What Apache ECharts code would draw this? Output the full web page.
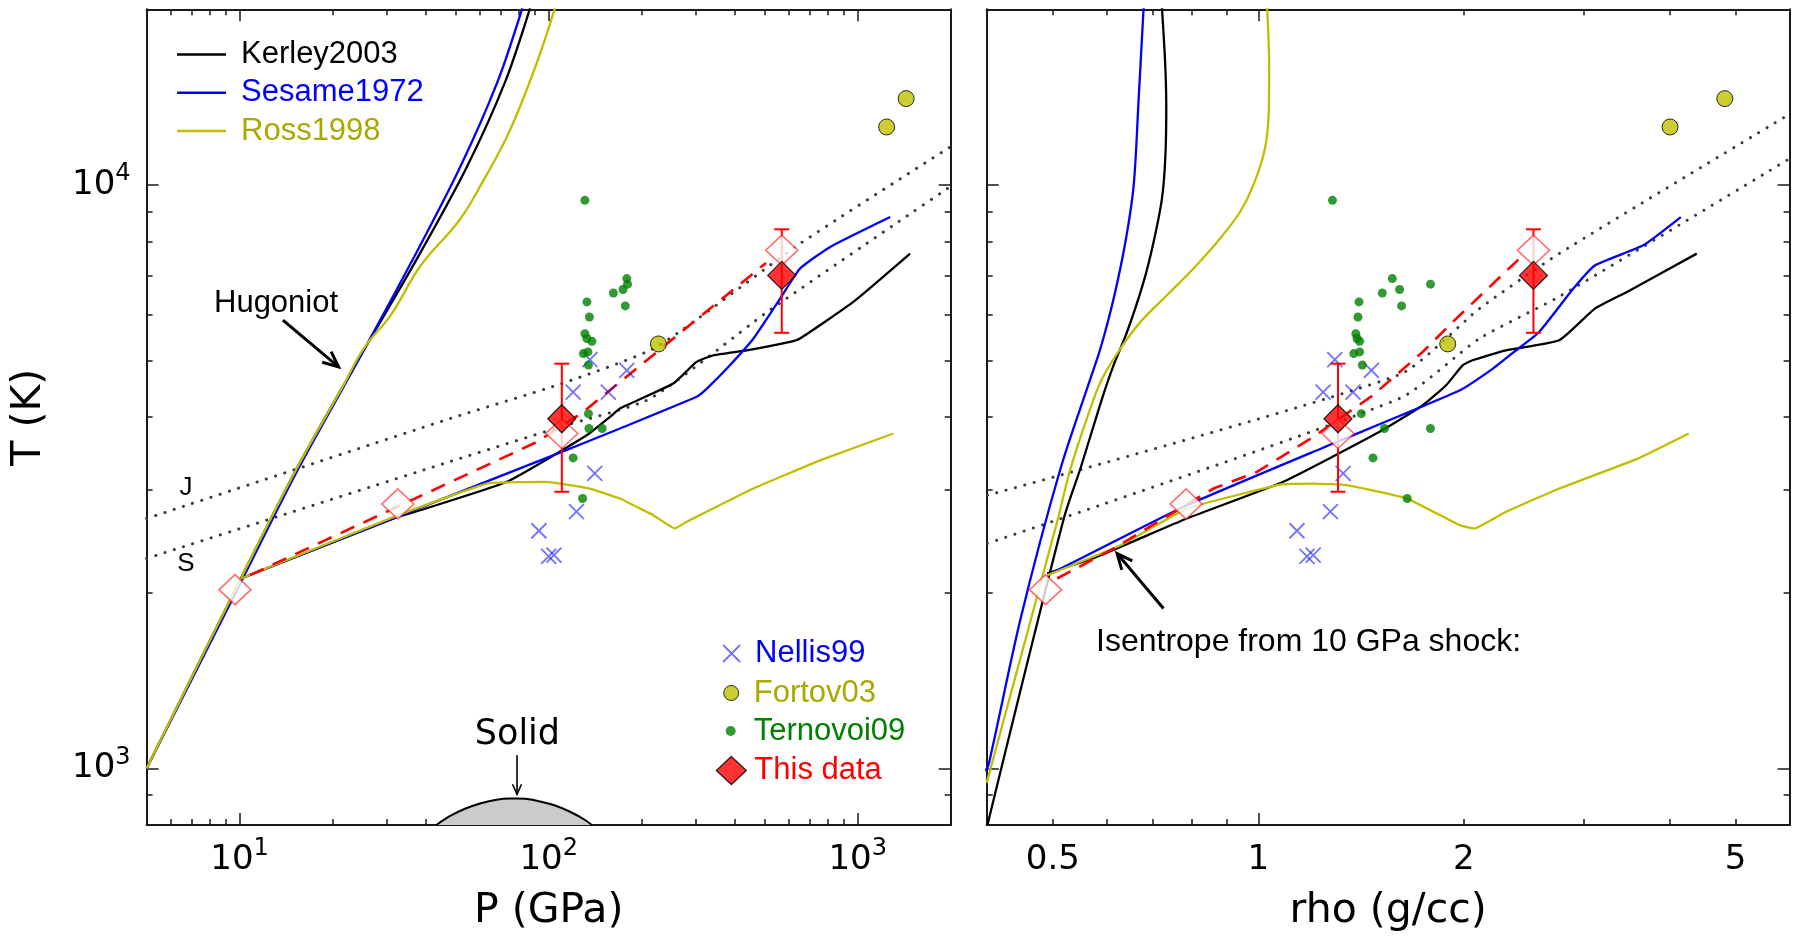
<!DOCTYPE html>
<html><head><meta charset="utf-8">
<script src="https://cdn.jsdelivr.net/npm/echarts@6/dist/echarts.min.js"></script>
<style>html,body{margin:0;padding:0;background:#fff}#c{width:1794px;height:937px}</style>
</head><body><div id="c"></div>
<script>
// ================= DATA =================
// ---- Left panel: P (GPa) vs T (K) ----
const kerleyHugP = [5, 9.66, 15.3, 23.8, 37.0, 54.0, 72.3, 87.1];
const kerleyHugT = [1000, 2021, 3266, 4943, 7383, 10660, 15020, 20100];
const sesameHugP = [5, 9.8, 15.5, 23.9, 36.0, 51.4, 68.3, 82.2];
const sesameHugT = [1000, 2021, 3266, 4943, 7383, 10660, 15020, 20100];
const rossHugP = [5, 9.66, 15.3, 21.5, 25.2, 30.8, 38.6, 51.4, 61.0, 74.5, 90.9, 104.8];
const rossHugT = [1000, 2021, 3266, 4500, 5244, 5979, 7284, 8700, 10100, 12320, 16030, 20100];

const kerleyIsoP = [10.1, 32.6, 38.4, 73.2, 132.8, 158, 170, 253, 301, 341, 438, 604, 651, 968, 1478];
const kerleyIsoT = [2116, 2700, 2770, 3099, 3724, 4004, 4138, 4567, 4974, 5106, 5207, 5383, 5455, 6303, 7626];
const sesameIsoP = [10.1, 32.6, 110.3, 170, 301, 325, 386, 460, 561, 651, 815, 1274];
const sesameIsoT = [2116, 2704, 3487, 3824, 4334, 4477, 4910, 5455, 6384, 7190, 7830, 8810];
const rossIsoP = [10.1, 32.6, 63.1, 98.6, 136, 170, 198, 218, 256, 280, 460, 755, 1305];
const rossIsoT = [2116, 2717, 3078, 3099, 3018, 2901, 2788, 2717, 2578, 2647, 3018, 3373, 3750];

const jP = [5, 48, 110.3, 224, 651, 2000];
const jT = [2681, 3978, 4567, 5284, 7933, 11630];
const sP = [5, 48, 110.3, 213, 508, 1305, 2000];
const sT = [2290, 3357, 3855, 4305, 6050, 8530, 9945];

const dashP = [10.8, 32.6, 91.5, 129, 505];
const dashT = [2144, 2813, 3626, 4077, 7350];

const solidP = [43.3, 48.0, 53.6, 60.0, 67.1, 75.0, 79.0, 83.9, 93.8, 104.9, 117.3, 131.2, 137.9];
const solidT = [800, 829, 853, 871, 883, 888, 888, 887, 878, 864, 843, 816, 800];

// ---- Right panel: rho (g/cc) vs T (K) ----
const kerleyHugRho = [0.401, 0.5188, 0.5487, 0.5903, 0.6137, 0.6422, 0.679, 0.7023, 0.7224, 0.7305, 0.733, 0.7305, 0.7224];
const kerleyHugRhoT = [800, 2681, 3266, 4305, 4912, 5598, 6823, 7986, 9478, 11090, 13510, 16030, 20100];
const sesameHugRho = [0.398, 0.4024, 0.4485, 0.5131, 0.5675, 0.587, 0.6137, 0.6386, 0.6567, 0.6678, 0.679];
const sesameHugRhoT = [990, 1013, 1807, 3266, 4655, 5244, 6384, 7986, 9984, 14060, 20100];
const rossHugRho = [0.4, 0.5073, 0.5307, 0.5741, 0.5937, 0.628, 0.6715, 0.7347, 0.8035, 0.8789, 0.9399, 0.9829, 1.0223, 1.036, 1.037, 1.030];
const rossHugRhoT = [945, 2647, 3266, 4305, 4716, 5244, 5820, 6472, 7191, 8095, 8988, 9984, 11540, 13510, 16030, 20100];

const kerleyIsoRho = [0.4906, 0.5805, 0.7856, 1.0875, 1.505, 1.741, 1.884, 1.993, 2.060, 2.305, 2.758, 3.111, 3.467, 4.387];
const kerleyIsoRhoT = [2159, 2306, 2681, 3099, 3775, 4193, 4537, 4910, 5007, 5207, 5418, 6138, 6557, 7626];
const sesameIsoRho = [0.4906, 0.6137, 0.7856, 1.2866, 1.970, 2.206, 2.369, 2.578, 2.893, 3.110, 3.662, 4.157];
const sesameIsoRhoT = [2143, 2446, 2825, 3605, 4443, 4845, 5175, 5598, 6643, 7278, 7880, 8810];
const rossIsoRho = [0.4906, 0.628, 0.7856, 1.075, 1.203, 1.346, 1.652, 1.970, 2.071, 2.305, 2.758, 3.595, 4.270];
const rossIsoRhoT = [2143, 2413, 2788, 3066, 3078, 3058, 2901, 2612, 2578, 2754, 3018, 3396, 3750];

const jRho = [0.401, 1.610, 2.108, 2.758, 5.957];
const jRhoT = [2939, 4732, 6138, 7626, 13160];
const sRho = [0.401, 1.610, 2.108, 2.758, 5.957];
const sRhoT = [2430, 4305, 5455, 6436, 11040];

const dashRho = [0.5073, 0.6137, 0.8593, 0.9943, 1.203, 1.472, 1.741, 1.949, 2.411];
const dashRhoT = [2116, 2382, 3018, 3221, 3698, 4362, 5175, 5902, 7475];

// ---- Experimental points (shared T, P for left, rho for right) ----
const nellisT = [5020, 4417, 4417, 4813, 3203, 2754, 2555, 2310, 2320];
const nellisP = [136, 120, 156, 179, 141, 123, 93, 100, 104];
const nellisRho = [1.294, 1.244, 1.376, 1.464, 1.331, 1.275, 1.139, 1.178, 1.203];

const fortovT = [5340, 12570, 14060];
const fortovP = [226.6, 1241, 1435];
const fortovRho = [1.894, 4.009, 4.822];

const ternovoiT = [9410, 6303, 5940, 5559, 5455, 5396, 5140, 5175, 4912, 6911, 6760, 6620, 6530, 6204, 4055, 3824, 3824, 3406, 2901];
const ternovoiP = [131, 133, 135.5, 131, 133, 138, 129.5, 134, 134.5, 179, 180, 174, 162, 177, 134.5, 135, 149, 120, 128.8];
const ternovoiRho = [1.284, 1.404, 1.399, 1.389, 1.395, 1.407, 1.380, 1.407, 1.420, 1.571, 1.787, 1.610, 1.519, 1.621, 1.415, 1.530, 1.787, 1.472, 1.652];

const thisT = [3975, 6998];
const thisTLow = [2980, 5580];
const thisTHigh = [4940, 8395];
const thisP = [110.3, 568];
const thisRho = [1.308, 2.529];

const openT = [2025, 2840, 3750, 7730];
const openP = [9.66, 32.5, 110.3, 568];
const openRho = [0.4878, 0.7837, 1.308, 2.529];

// ---- Annotation arrows (tail -> tip, data coordinates) ----
const hugoniotArrow = [13.8, 5864, 20.9, 4876];
const solidArrow = [79.0, 1054, 79.0, 903];
const isentropeArrow = [0.7262, 1880, 0.6209, 2335];

// ---- Ticks ----
const pMajorTicks = [10, 100, 1000];
const pMinorTicks = [6, 7, 8, 9, 20, 30, 40, 50, 60, 70, 80, 90, 200, 300, 400, 500, 600, 700, 800, 900];
const tMajorTicks = [1000, 10000];
const tMinorTicks = [900, 2000, 3000, 4000, 5000, 6000, 7000, 8000, 9000];
const rhoMajorTicks = [1];
const rhoMinorTicks = [0.5, 0.6, 0.7, 0.8, 0.9, 2, 3, 4, 5];
const rhoTickLabels = [0.5, 1, 2, 5];

// ================= CHART =================
const pts = (xs, ys) => xs.map((x, i) => [x, ys[i]]);
const FRAME = '#1a1a1a';
const BLUE = '#0000ff', BLACK = '#000000', YEL = '#bfbf00', YELTXT = '#a9a900', GREEN = '#008000', RED = '#ff0000';
const DJ = 'DejaVu Sans';
const LS = '"Liberation Sans", Arial, sans-serif';

const richLbl = {
  b: {fontFamily: DJ, fontSize: 34, lineHeight: 46, color: '#000'},
  s: {fontFamily: DJ, fontSize: 24, lineHeight: 24, verticalAlign: 'top', color: '#000'}
};
const powFmt = v => '{b|10}{s|' + Math.round(Math.log10(v)) + '}';

function ax(gridIndex, position, min, max, ticks, len, showLine, label, extra) {
  return Object.assign({
    type: 'log', logBase: 10, gridIndex, position, min, max,
    axisLine: {show: showLine, onZero: false, lineStyle: {color: FRAME, width: 2}},
    axisTick: {show: true, inside: true, length: len, customValues: ticks, lineStyle: {color: FRAME, width: 1.5}},
    axisLabel: label || {show: false},
    splitLine: {show: false},
    minorTick: {show: false},
    minorSplitLine: {show: false}
  }, extra || {});
}

const xAxes = [
  ax(0, 'bottom', 5, 2000, pMajorTicks, 12, true,
     {show: true, customValues: pMajorTicks, margin: 12, formatter: powFmt, rich: richLbl},
     {name: 'P (GPa)', nameLocation: 'middle', nameGap: 66, nameTextStyle: {fontFamily: DJ, fontSize: 41, color: '#000'}}),
  ax(0, 'bottom', 5, 2000, pMinorTicks, 6, false),
  ax(0, 'top', 5, 2000, pMajorTicks, 12, true),
  ax(0, 'top', 5, 2000, pMinorTicks, 6, false),
  ax(1, 'bottom', 0.4, 6, rhoMajorTicks, 12, true,
     {show: true, customValues: rhoTickLabels, margin: 12, formatter: v => '{b|' + parseFloat(Number(v).toPrecision(3)) + '}', rich: richLbl},
     {name: 'rho (g/cc)', nameLocation: 'middle', nameGap: 66, nameTextStyle: {fontFamily: DJ, fontSize: 41, color: '#000'}}),
  ax(1, 'bottom', 0.4, 6, rhoMinorTicks, 6, false),
  ax(1, 'top', 0.4, 6, rhoMajorTicks, 12, true),
  ax(1, 'top', 0.4, 6, rhoMinorTicks, 6, false)
];
const yAxes = [
  ax(0, 'left', 800, 20000, tMajorTicks, 12, true,
     {show: true, customValues: tMajorTicks, margin: 16, formatter: powFmt, rich: richLbl},
     {name: 'T (K)', nameLocation: 'middle', nameGap: 97, nameTextStyle: {fontFamily: DJ, fontSize: 41, color: '#000'}}),
  ax(0, 'left', 800, 20000, tMinorTicks, 6, false),
  ax(0, 'right', 800, 20000, tMajorTicks, 12, true),
  ax(0, 'right', 800, 20000, tMinorTicks, 6, false),
  ax(1, 'left', 800, 20000, tMajorTicks, 12, true),
  ax(1, 'left', 800, 20000, tMinorTicks, 6, false),
  ax(1, 'right', 800, 20000, tMajorTicks, 12, true),
  ax(1, 'right', 800, 20000, tMinorTicks, 6, false)
];

function line(name, data, color, width, panel, extra) {
  return Object.assign({
    type: 'line', name, data, xAxisIndex: panel * 4, yAxisIndex: panel * 4,
    showSymbol: false, symbol: 'none', color, silent: true, animation: false,
    lineStyle: {color, width}
  }, extra || {});
}
const dotted = {lineStyle: {color: '#3a3a3a', width: 3, type: [0.1, 9.6], cap: 'round'}, smooth: 0.2};
const dashed = {lineStyle: {color: RED, width: 2.6, type: [15, 10]}};
const sm = {smooth: 0.3};
const smIso = {smooth: 0.15};

function scatter(name, data, panel, symbol, size, itemStyle, z) {
  return {type: 'scatter', name, data, xAxisIndex: panel * 4, yAxisIndex: panel * 4,
          symbol, symbolSize: size, itemStyle, silent: true, animation: false, z: z || 3};
}
const XPATH = 'path://M0,0L10,10M10,0L0,10';
const nellisStyle = {color: 'transparent', borderColor: 'rgba(20,20,255,0.75)', borderWidth: 1.8};
const fortovStyle = {color: YEL, borderColor: '#000', borderWidth: 1};
const ternStyle = {color: GREEN};
const thisStyle = {color: RED, borderColor: '#000', borderWidth: 1.3};
const openStyle = {color: '#ffffff', borderColor: 'rgba(255,40,40,0.85)', borderWidth: 1.6};

function errRender(params, api) {
  const x = api.value(0);
  const lo = api.coord([x, api.value(1)]);
  const hi = api.coord([x, api.value(2)]);
  const c = 7.5, st = {stroke: RED, lineWidth: 2};
  return {type: 'group', children: [
    {type: 'line', shape: {x1: lo[0], y1: lo[1], x2: hi[0], y2: hi[1]}, style: st},
    {type: 'line', shape: {x1: lo[0] - c, y1: lo[1], x2: lo[0] + c, y2: lo[1]}, style: st},
    {type: 'line', shape: {x1: hi[0] - c, y1: hi[1], x2: hi[0] + c, y2: hi[1]}, style: st}
  ]};
}
function errSeries(xs, panel) {
  return {type: 'custom', name: 'err', xAxisIndex: panel * 4, yAxisIndex: panel * 4, renderItem: errRender,
          data: xs.map((x, i) => [x, thisTLow[i], thisTHigh[i]]), encode: {x: 0, y: [1, 2]}, silent: true, z: 4, animation: false};
}
function arrowSeries(a, panel, width, head) {
  return {type: 'custom', name: 'arrow', xAxisIndex: panel * 4, yAxisIndex: panel * 4, silent: true, z: 6, animation: false,
    data: [a], encode: {x: [0, 2], y: [1, 3]},
    renderItem: (params, api) => {
      const p1 = api.coord([api.value(0), api.value(1)]);
      const p2 = api.coord([api.value(2), api.value(3)]);
      const ang = Math.atan2(p2[1] - p1[1], p2[0] - p1[0]);
      const a1 = ang + Math.PI - 0.42, a2 = ang + Math.PI + 0.42;
      const st = {stroke: '#000', lineWidth: width, fill: null};
      return {type: 'group', children: [
        {type: 'line', shape: {x1: p1[0], y1: p1[1], x2: p2[0], y2: p2[1]}, style: st},
        {type: 'polyline', shape: {points: [[p2[0] + head * Math.cos(a1), p2[1] + head * Math.sin(a1)], [p2[0], p2[1]], [p2[0] + head * Math.cos(a2), p2[1] + head * Math.sin(a2)]]}, style: st}
      ]};
    }};
}

const series = [
  // ----- left -----
  line('Solid', pts(solidP, solidT), BLACK, 2, 0, {smooth: 0.3, areaStyle: {color: '#cbcbcb', origin: 'start', opacity: 1}}),
  line('J', pts(jP, jT), '#3a3a3a', 3, 0, dotted),
  line('S', pts(sP, sT), '#3a3a3a', 3, 0, dotted),
  line('Kerley2003', pts(kerleyHugP, kerleyHugT), BLACK, 2.3, 0, sm),
  line('Sesame1972', pts(sesameHugP, sesameHugT), BLUE, 2.3, 0, sm),
  line('Ross1998', pts(rossHugP, rossHugT), YEL, 2.3, 0, {smooth: 0.4}),
  line('Kerley2003', pts(kerleyIsoP, kerleyIsoT), BLACK, 2.3, 0, smIso),
  line('Sesame1972', pts(sesameIsoP, sesameIsoT), BLUE, 2.3, 0, smIso),
  line('Ross1998', pts(rossIsoP, rossIsoT), YEL, 2.3, 0, {smooth: 0.1}),
  line('model', pts(dashP, dashT), RED, 2.6, 0, dashed),
  scatter('Nellis99', pts(nellisP, nellisT), 0, XPATH, 15, nellisStyle),
  scatter('Ternovoi09', pts(ternovoiP, ternovoiT), 0, 'circle', 9, ternStyle),
  scatter('Fortov03', pts(fortovP, fortovT), 0, 'circle', 16, fortovStyle),
  scatter('open', pts(openP, openT), 0, 'diamond', [32, 30], openStyle, 4),
  errSeries(thisP, 0),
  scatter('This data', pts(thisP, thisT), 0, 'diamond', [28, 28], thisStyle, 5),
  arrowSeries(hugoniotArrow, 0, 3, 17),
  arrowSeries(solidArrow, 0, 1.6, 11),
  // ----- right -----
  line('J', pts(jRho, jRhoT), '#3a3a3a', 3, 1, dotted),
  line('S', pts(sRho, sRhoT), '#3a3a3a', 3, 1, dotted),
  line('Kerley2003', pts(kerleyHugRho, kerleyHugRhoT), BLACK, 2.3, 1, sm),
  line('Sesame1972', pts(sesameHugRho, sesameHugRhoT), BLUE, 2.3, 1, sm),
  line('Ross1998', pts(rossHugRho, rossHugRhoT), YEL, 2.3, 1, sm),
  line('Kerley2003', pts(kerleyIsoRho, kerleyIsoRhoT), BLACK, 2.3, 1, smIso),
  line('Sesame1972', pts(sesameIsoRho, sesameIsoRhoT), BLUE, 2.3, 1, smIso),
  line('Ross1998', pts(rossIsoRho, rossIsoRhoT), YEL, 2.3, 1, {smooth: 0.1}),
  line('model', pts(dashRho, dashRhoT), RED, 2.6, 1, dashed),
  scatter('Nellis99', pts(nellisRho, nellisT), 1, XPATH, 15, nellisStyle),
  scatter('Ternovoi09', pts(ternovoiRho, ternovoiT), 1, 'circle', 9, ternStyle),
  scatter('Fortov03', pts(fortovRho, fortovT), 1, 'circle', 16, fortovStyle),
  scatter('open', pts(openRho, openT), 1, 'diamond', [32, 30], openStyle, 4),
  errSeries(thisRho, 1),
  scatter('This data', pts(thisRho, thisT), 1, 'diamond', [28, 28], thisStyle, 5),
  arrowSeries(isentropeArrow, 1, 3, 17)
];

const legText = {fontFamily: LS, fontSize: 31, lineHeight: 31};
function oneLegend(name, color, left, top, size, itemStyle, pad) {
  return {data: [name], left, top, itemWidth: size[0], itemHeight: size[1], selectedMode: false, itemStyle,
          textStyle: Object.assign({}, legText, {color, padding: [0, 0, 0, pad]})};
}

const option = {
  backgroundColor: '#ffffff',
  animation: false,
  grid: [
    {left: 146.6, top: 9.3, width: 804.1, height: 816.7, containLabel: false},
    {left: 986.7, top: 9.3, width: 802.9, height: 816.7, containLabel: false}
  ],
  xAxis: xAxes,
  yAxis: yAxes,
  legend: [
    {data: [{name: 'Kerley2003', textStyle: {color: BLACK}}, {name: 'Sesame1972', textStyle: {color: BLUE}}, {name: 'Ross1998', textStyle: {color: YELTXT}}],
     orient: 'vertical', left: 172, top: 34, icon: 'rect', itemWidth: 49, itemHeight: 2.5, itemGap: 7.3, selectedMode: false,
     textStyle: Object.assign({}, legText, {padding: [0, 0, 0, 10]})},
    oneLegend('Nellis99', BLUE, 717.2, 633, [17, 17], nellisStyle, 10),
    oneLegend('Fortov03', YELTXT, 718.2, 672.5, [15, 15], fortovStyle, 10),
    oneLegend('Ternovoi09', GREEN, 720.7, 710.5, [10, 10], ternStyle, 13),
    oneLegend('This data', RED, 710.7, 750, [30, 28], thisStyle, 3)
  ],
  graphic: [
    {type: 'text', x: 214, y: 303, style: {text: 'Hugoniot', font: '31px ' + LS, fill: '#000', verticalAlign: 'middle', textVerticalAlign: 'middle'}},
    {type: 'text', x: 517.4, y: 735, style: {text: 'Solid', font: '35px "DejaVu Sans"', fill: '#000', align: 'center', textAlign: 'center', verticalAlign: 'middle', textVerticalAlign: 'middle'}},
    {type: 'text', x: 186, y: 488, style: {text: 'J', font: '26px ' + LS, fill: '#000', align: 'center', textAlign: 'center', verticalAlign: 'middle', textVerticalAlign: 'middle'}},
    {type: 'text', x: 186, y: 564, style: {text: 'S', font: '26px ' + LS, fill: '#000', align: 'center', textAlign: 'center', verticalAlign: 'middle', textVerticalAlign: 'middle'}},
    {type: 'text', x: 1096, y: 642, style: {text: 'Isentrope from 10 GPa shock:', font: '32px ' + LS, fill: '#000', verticalAlign: 'middle', textVerticalAlign: 'middle'}}
  ],
  series
};

const chart = echarts.init(document.getElementById('c'), null, {renderer: 'canvas', width: 1794, height: 937});
chart.setOption(option);
</script>
</body></html>
